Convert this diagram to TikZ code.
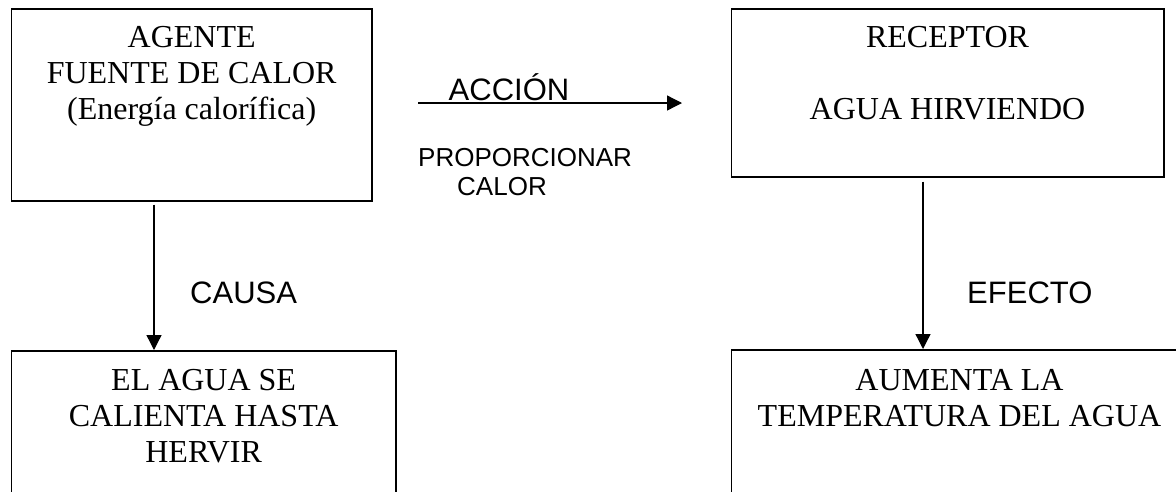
\documentclass[tikz,border=0pt]{standalone}
\usepackage{fontspec}
\setmainfont{Liberation Serif}
\setsansfont{Liberation Sans}
\usetikzlibrary{arrows.meta}

\tikzset{
  box/.style={draw, line width=1.6pt, inner sep=0pt, anchor=north west},
  conn/.style={line width=1.3pt, -{Triangle[length=15pt,width=15pt]}},
  lbl/.style={inner sep=0pt, font=\sffamily\fontsize{31}{36}\selectfont},
  smalllbl/.style={inner sep=0pt, font=\sffamily\fontsize{26}{29}\selectfont},
}
% box body: width, height, height of the first line, then the text
\newcommand{\boxtext}[4]{%
  \parbox[t][#2][t]{#1}{\centering\fontsize{32}{36}\selectfont
    \rule{0pt}{#3}#4\par}}

\begin{document}
\begin{tikzpicture}[x=1pt, y=-1pt]
  \clip (0,0) rectangle (1176,491);
  \fill[white] (0,0) rectangle (1176,491);

  % the four boxes
  \node[box] (agente) at (10.7,8)
    {\boxtext{360.3pt}{192pt}{39pt}{AGENTE\\FUENTE DE CALOR\\(Energía calorífica)}};
  \node[box] (receptor) at (730.5,8)
    {\boxtext{432.5pt}{168pt}{39pt}{RECEPTOR\\[36pt]AGUA HIRVIENDO}};
  \node[box] (causa) at (10.7,350)
    {\boxtext{384.3pt}{170pt}{40pt}{EL AGUA SE\\CALIENTA HASTA\\HERVIR}};
  \node[box] (efecto) at (730.7,349)
    {\boxtext{456pt}{170pt}{41pt}{AUMENTA LA\\TEMPERATURA DEL AGUA}};

  % horizontal action arrow
  \coordinate (accstart) at (418,103);
  \coordinate (accend) at (682,103);
  \draw[conn] (accstart) -- (accend);
  \node[lbl, anchor=base] (accion) at (509,100) {ACCIÓN};
  \node[smalllbl, anchor=base west] (prop) at (418,166) {PROPORCIONAR};
  \node[smalllbl, anchor=base] (calor) at (502,195) {CALOR};

  % vertical arrows
  \coordinate (causax) at (154,0);
  \coordinate (efectox) at (923,0);
  \draw[conn] ([yshift=-3pt]agente.south -| causax) -- (causa.north -| causax);
  \draw[conn] ([yshift=-4pt]receptor.south -| efectox) -- (efecto.north -| efectox);

  \node[lbl, anchor=base west] (causalbl) at (190,303) {CAUSA};
  \node[lbl, anchor=base west] (efectolbl) at (967,303) {EFECTO};
\end{tikzpicture}
\end{document}
